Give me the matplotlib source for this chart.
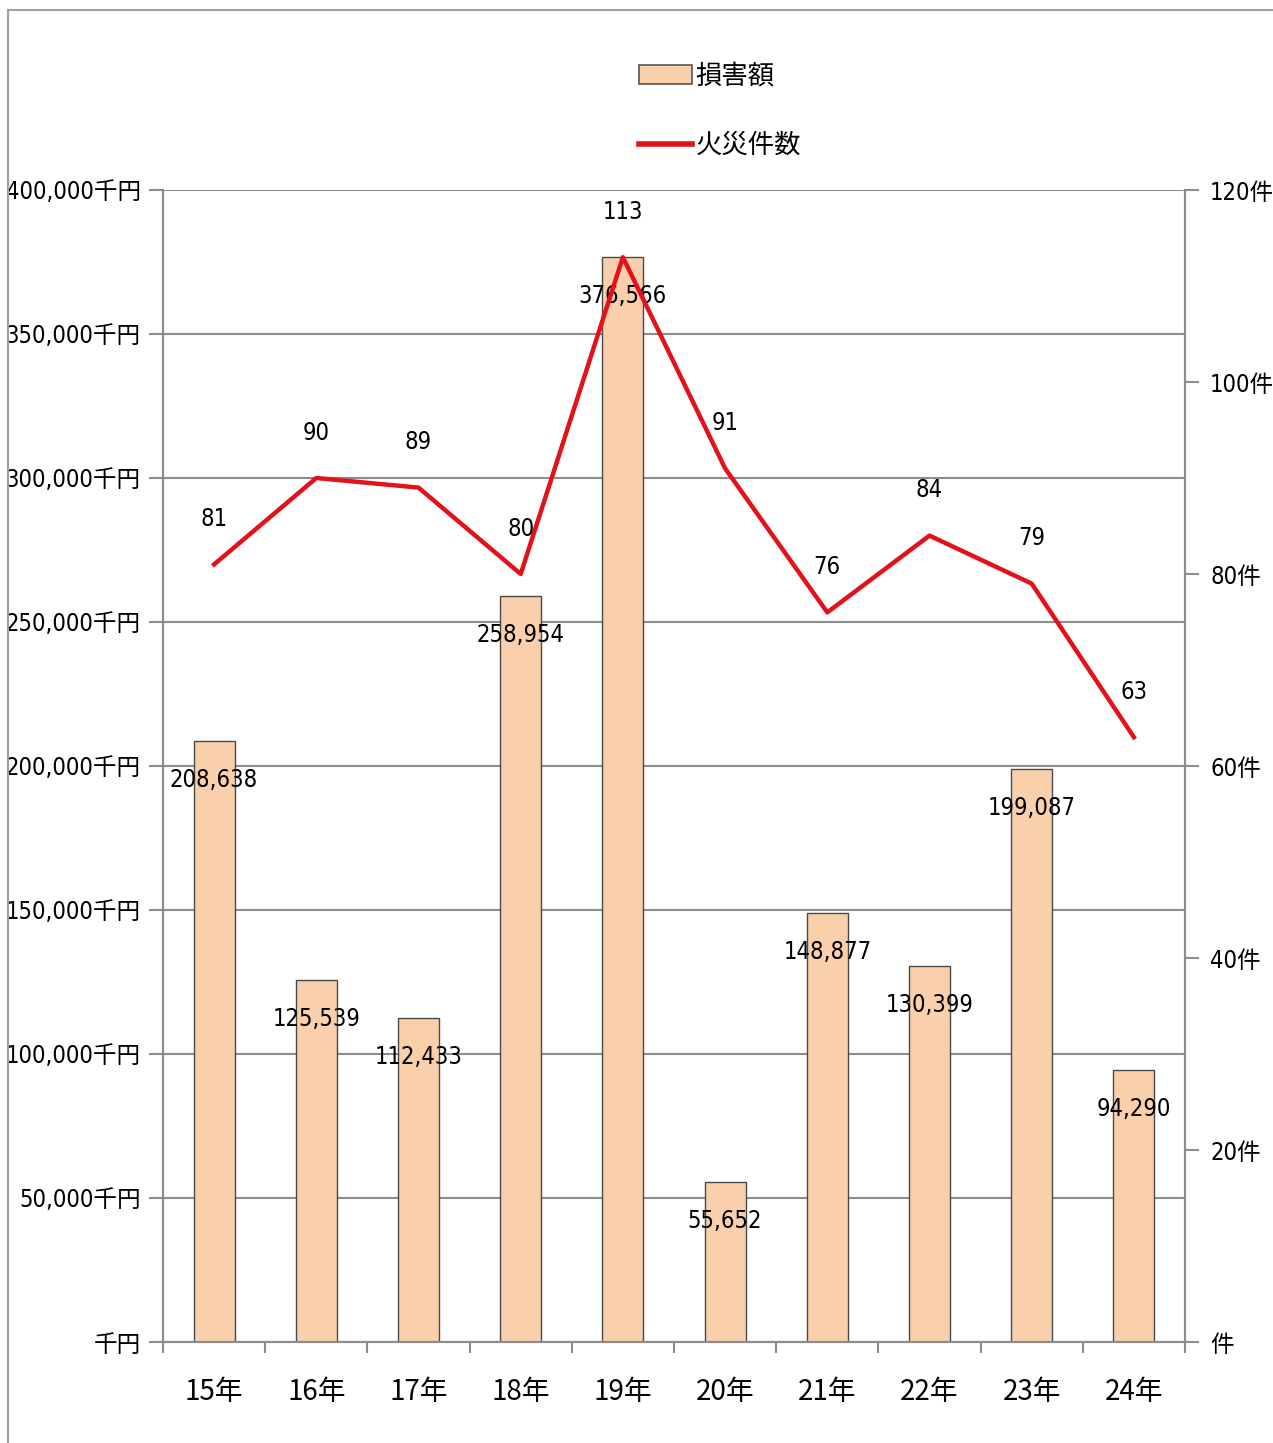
import numpy as np
import matplotlib.pyplot as plt
from matplotlib import font_manager
from matplotlib.patches import Rectangle
from matplotlib.lines import Line2D

years = ["15年", "16年", "17年", "18年", "19年", "20年", "21年", "22年", "23年", "24年"]
damage = [208638, 125539, 112433, 258954, 376566, 55652, 148877, 130399, 199087, 94290]
fires = [81, 90, 89, 80, 113, 91, 76, 84, 79, 63]

# look for a condensed latin face (the original uses a narrow font for numbers)
cond = [f for f in font_manager.fontManager.ttflist
        if ("Condensed" in f.name or "Narrow" in f.name or f.stretch == "condensed"
            or f.stretch == 500 - 100)]
stretch = "normal"
if any(f.name == "DejaVu Sans" and f.stretch in ("condensed", "semi-condensed") for f in cond):
    latin, stretch, num_fs = "DejaVu Sans", "condensed", 17
elif cond:
    latin, num_fs = cond[0].name, 17
else:
    latin, num_fs = "Liberation Sans", 15
fam = [latin, "Noto Sans CJK JP"]
cjk = ["Noto Sans CJK JP", "DejaVu Sans"]
plt.rcParams['font.family'] = fam
plt.rcParams['font.stretch'] = stretch

W, H = 1273, 1443
fig = plt.figure(figsize=(W / 100, H / 100), dpi=100)
ax = fig.add_axes([163 / W, 1 - 1342 / H, (1185 - 163) / W, (1342 - 190) / H])
ax2 = ax.twinx()

x = np.arange(len(years))
grid_c = "#8c8c8c"

ax.set_xlim(-0.5, len(years) - 0.5)
ax.set_ylim(0, 400000)
ax2.set_ylim(0, 120)
ax.set_yticks(np.arange(0, 400001, 50000))
ax.yaxis.grid(True, color=grid_c, lw=1.5)
ax.set_axisbelow(True)

ax.bar(x, damage, width=0.4, color="#f9cfac", edgecolor="#4a4a4a", lw=1.0, zorder=2)
for xi, v in zip(x, damage):
    ax.text(xi, v - 13500, f"{v:,}", ha="center", va="center", fontsize=num_fs, zorder=5)

ax2.plot(x, fires, color="#e3121a", lw=3.2, zorder=3)
for xi, v in zip(x, fires):
    ax2.text(xi, v + 4.7, str(v), ha="center", va="center", fontsize=num_fs)

ax.set_yticklabels([f"{v:,}千円" if v else "千円" for v in range(0, 400001, 50000)], fontsize=num_fs)
ax2.set_yticks(np.arange(0, 121, 20))
ax2.set_yticklabels([f"{v}件" if v else "件" for v in range(0, 121, 20)], fontsize=num_fs)

ax.set_xticks(x)
ax.set_xticklabels(years, fontsize=20, family=cjk)
ax.set_xticks(np.arange(-0.5, len(years), 1), minor=True)
ax.tick_params(axis="x", which="major", length=0, pad=25)
ax.tick_params(axis="x", which="minor", length=8, color=grid_c, width=1.5, direction="out")
ax.tick_params(axis="y", length=10, color=grid_c, width=1.5, pad=6)
ax2.tick_params(axis="y", length=10, color=grid_c, width=1.5, pad=8)

for a in (ax, ax2):
    a.spines["top"].set_visible(False)
    for s in ("left", "right", "bottom"):
        a.spines[s].set_color(grid_c)
        a.spines[s].set_linewidth(1.5)

# legend
handles = [Rectangle((0, 0), 1, 1, facecolor="#f9cfac", edgecolor="#555555", lw=1.2),
           Line2D([0], [0], color="#e3121a", lw=4)]
fig.legend(handles, ["損害額", "火災件数"], loc="center", bbox_to_anchor=(720 / W, 1 - 111 / H),
           frameon=False, prop={"family": cjk, "size": 19}, handlelength=2.0,
           handletextpad=0.15, labelspacing=1.6)

# outer border
fig.add_artist(Rectangle((8 / W, -0.01), 1.2, 1 - 10 / H + 0.01, transform=fig.transFigure,
                         fill=False, edgecolor="#a0a0a0", lw=1.5))

fig.savefig("out.png", dpi=100)
